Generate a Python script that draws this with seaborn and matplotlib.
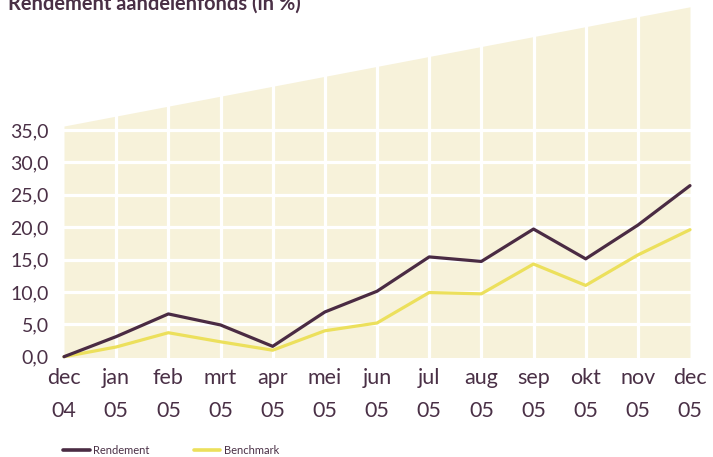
import matplotlib
matplotlib.use("Agg")
import matplotlib.pyplot as plt
from matplotlib.lines import Line2D
import numpy as np
import pandas as pd
import seaborn as sns

# ---- data ----
months = ["dec\n04", "jan\n05", "feb\n05", "mrt\n05", "apr\n05", "mei\n05", "jun\n05",
          "jul\n05", "aug\n05", "sep\n05", "okt\n05", "nov\n05", "dec\n05"]
rendement = [0.0, 3.1, 6.6, 4.9, 1.6, 6.9, 10.1, 15.4, 14.7, 19.7, 15.1, 20.3, 26.4]
benchmark = [0.0, 1.5, 3.7, 2.3, 1.0, 4.0, 5.2, 9.9, 9.7, 14.3, 11.0, 15.7, 19.6]
series_names = ["Rendement", "Benchmark"]
y_ticks = [0, 5, 10, 15, 20, 25, 30, 35]
y_labels = ["0,0", "5,0", "10,0", "15,0", "20,0", "25,0", "30,0", "35,0"]
bg_top = [35.6, 54.0]   # top edge of the beige backdrop at first / last month
title = "Rendement aandelenfonds (in %)"

# ---- style ----
PURPLE = "#4a2b43"
YELLOW = "#ece05c"
BEIGE = "#f7f2da"
TEXT = "#4a3046"

sns.set_style("white")
plt.rcParams["font.family"] = ["Lato", "DejaVu Sans"]

W, H = 713, 457
fig = plt.figure(figsize=(W / 100, H / 100), dpi=100)
y0 = 356.7
ax = fig.add_axes([64 / W, (H - y0) / H, (690 - 64) / W, y0 / H])
ymax = y0 / 6.48
ax.set_xlim(0, len(months) - 1)
ax.set_ylim(0, ymax)

n = len(months)
ax.fill_between([0, n - 1], [-0.3, -0.3], bg_top, color=BEIGE, lw=0, zorder=0)
for v in y_ticks[1:]:
    ax.axhline(v, color="white", lw=2.3, zorder=1)
for xv in range(1, n - 1):
    ax.axvline(xv, color="white", lw=2.3, zorder=1)

df = pd.DataFrame({
    "pos": list(range(n)) * 2,
    "value": rendement + benchmark,
    "series": [series_names[0]] * n + [series_names[1]] * n,
})
sns.lineplot(data=df, x="pos", y="value", hue="series",
             palette={series_names[0]: PURPLE, series_names[1]: YELLOW},
             hue_order=series_names[::-1], lw=2.3, legend=False, ax=ax, zorder=3)
for ln in ax.lines:
    ln.set_clip_on(False)

for s in ax.spines.values():
    s.set_visible(False)
ax.set_xlabel("")
ax.set_ylabel("")
ax.set_xticks(range(n))
ax.set_xticklabels(months, linespacing=1.85)
ax.set_yticks(y_ticks)
ax.set_yticklabels(y_labels)
ax.tick_params(axis="both", length=0, colors=TEXT)
ax.tick_params(axis="x", pad=8, labelsize=15.5)
ax.tick_params(axis="y", pad=11, labelsize=14)

fig.text(8 / W, 1 - 9.5 / H, title, fontsize=14.4, fontweight="bold", color=TEXT,
         ha="left", va="baseline")

handles = [Line2D([], [], color=PURPLE, lw=2.6), Line2D([], [], color=YELLOW, lw=2.6)]
leg = fig.legend(handles, series_names, loc="center left",
                 bbox_to_anchor=(63 / W, (H - 450) / H), ncol=2, frameon=False,
                 fontsize=8, handlelength=2.4, handletextpad=0.3, columnspacing=4.0,
                 borderpad=0, borderaxespad=0)
for t in leg.get_texts():
    t.set_color(TEXT)

fig.savefig("out.png", dpi=100)
